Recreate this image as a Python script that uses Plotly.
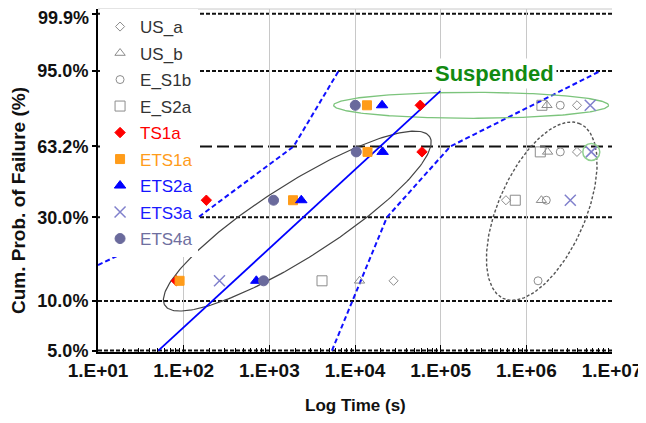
import numpy as np
import plotly.graph_objects as go

# ---------------- data ----------------
rank_F = [13.2, 36.7, 60.3, 83.8]          # cumulative probability (%) of ranks 1..4

US_a_t  = [28200, 578000, 3.90e6, 3.90e6]
US_b_t  = [11300, 1.50e6, 1.77e6, 1.74e6]
E_S1b_t = [1.37e6, 1.71e6, 2.49e6, 2.49e6]
E_S2a_t = [4120, 743000, 1.455e6, 1.52e6]
TS1a_t  = [82, 184, 60500, 57800]
ETS1a_t = [89.6, 1890, 14000, 13800]
ETS2a_t = [705, 2360, 21000, 20700]
ETS3a_t = [262, 3.26e6, 5.73e6, 5.57e6]
ETS4a_t = [857, 1120, 10350, 10070]

fit_t = [50.6, 99000]
fit_F = [5.0, 89.3]
lower_t = [10, 148, 1920, 6430]
lower_F = [16.3, 30, 63.2, 95]
upper_t = [5380, 23600, 129500, 7.3e6]
upper_F = [5, 30, 63.2, 95]

x_tickvals = [1e1, 1e2, 1e3, 1e4, 1e5, 1e6, 1e7]
x_ticktext = ["1.E+01", "1.E+02", "1.E+03", "1.E+04", "1.E+05", "1.E+06", "1.E+07"]
y_probs = [5, 10, 30, 63.2, 95, 99.9]
y_ticktext = ["5.0%", "10.0%", "30.0%", "63.2%", "95.0%", "99.9%"]


def weib(F):
    F = np.asarray(F, dtype=float) / 100.0
    return np.log(-np.log(1 - F))


# ---------------- geometry ----------------
# the page body adds an 8px margin; keep the page within the window
W, H = 638, 407
ML, MR, MT, MB = 90, 34, 1, 63
PW, PH = W - ML - MR, H - MT - MB
Y_BOT, Y_TOP = -2.991, 2.0
X_PX = PW / 6.0
Y_PX = PH / (Y_TOP - Y_BOT)

FONT = "Liberation Sans, Arial, sans-serif"
TICKFONT_Y = dict(family=FONT, size=18, weight="bold", color="#111111")


def ellipse(ct, cF, a, b, ang):
    t = np.linspace(0, 2 * np.pi, 240)
    th = np.radians(ang)
    u = a * np.cos(t) * np.cos(th) - b * np.sin(t) * np.sin(th)
    v = a * np.cos(t) * np.sin(th) + b * np.sin(t) * np.cos(th)
    lx = np.log10(ct) + u / X_PX
    w = float(weib([cF])[0]) + v / Y_PX
    return 10 ** lx, w


fig = go.Figure()

# confidence bounds and fit line
fig.add_trace(go.Scatter(x=lower_t, y=weib(lower_F), mode="lines",
                         line=dict(color="#1010ff", width=2, dash="5px,3px"),
                         showlegend=False, hoverinfo="skip"))
fig.add_trace(go.Scatter(x=upper_t, y=weib(upper_F), mode="lines",
                         line=dict(color="#1010ff", width=2, dash="5px,3px"),
                         showlegend=False, hoverinfo="skip"))

# ellipses
ex, ey = ellipse(2120, 28.65, 157, 37, 32.5)
fig.add_trace(go.Scatter(x=ex, y=ey, mode="lines", line=dict(color="#444444", width=1.2),
                         showlegend=False, hoverinfo="skip"))
ex, ey = ellipse(226500, 83.8, 137.5, 13, 0)
fig.add_trace(go.Scatter(x=ex, y=ey, mode="lines", line=dict(color="#7cc47c", width=1.3),
                         showlegend=False, hoverinfo="skip"))
ex, ey = ellipse(1.514e6, 32.3, 95.4, 43.7, 66.4)
fig.add_trace(go.Scatter(x=ex, y=ey, mode="lines",
                         line=dict(color="#555555", width=1.4, dash="3px,2px"),
                         showlegend=False, hoverinfo="skip"))

fig.add_trace(go.Scatter(x=fit_t, y=weib(fit_F), mode="lines",
                         line=dict(color="#0000ff", width=1.8),
                         showlegend=False, hoverinfo="skip"))

GRAY = "#8c8c8c"
series = [
    ("US_a", US_a_t, "diamond-open", GRAY, 7, "#333333"),
    ("US_b", US_b_t, "triangle-up-open", GRAY, 9, "#333333"),
    ("E_S1b", E_S1b_t, "circle-open", GRAY, 8, "#333333"),
    ("E_S2a", E_S2a_t, "square-open", GRAY, 10, "#333333"),
    ("TS1a", TS1a_t, "diamond", "#ff0000", 8, "#ff0000"),
    ("ETS1a", ETS1a_t, "square", "#ff9c1a", 9, "#ff9c1a"),
    ("ETS2a", ETS2a_t, "triangle-up", "#0000ff", 10, "#1414ff"),
    ("ETS3a", ETS3a_t, "x-thin-open", "#8080cc", 11, "#1a1aff"),
    ("ETS4a", ETS4a_t, "circle", "#6a6a9c", 10, "#6f6f9f"),
]
for name, times, sym, col, size, tcol in series:
    fig.add_trace(go.Scatter(
        x=times, y=weib(rank_F), mode="markers",
        name=f'<span style="color:{tcol}">{name}</span>',
        legendgroup=name,
        marker=dict(symbol=sym, color=col, size=size,
                    line=dict(color=col, width=1.5 if "x-thin" in sym else 1)),
    ))

# green circle highlighting one ETS3a point
fig.add_trace(go.Scatter(x=[ETS3a_t[2]], y=weib([rank_F[2]]), mode="markers",
                         marker=dict(symbol="circle-open", size=17, color="#8fd08f",
                                     line=dict(width=1.5, color="#8fd08f")),
                         showlegend=False, hoverinfo="skip"))

shapes = []
for p in y_probs:
    long = abs(p - 63.2) < 0.01
    shapes.append(dict(type="line", xref="paper", x0=0, x1=1, yref="y",
                       y0=float(weib([p])[0]), y1=float(weib([p])[0]),
                       line=dict(color="#111111", width=2,
                                 dash="12px,5px" if long else "4px,2px"),
                       layer="between"))
shapes.append(dict(type="line", xref="paper", x0=0, x1=1, yref="paper", y0=1, y1=1,
                   line=dict(color="#c8c8c8", width=1), layer="between"))

minor_vals = [k * 10 ** d for d in range(1, 7) for k in range(2, 10)]

# the top label sits a little lower than its tick so that it stays inside the page
axis_ticktext = y_ticktext[:-1] + [""]
top_label = dict(text=y_ticktext[-1], x=-0.0136, y=float(weib([y_probs[-1]])[0]),
                 xref="paper", yref="y", xanchor="right", yanchor="middle",
                 yshift=-4, showarrow=False, font=TICKFONT_Y)

fig.update_layout(
    width=W, height=H,
    margin=dict(l=ML, r=MR, t=MT, b=MB, autoexpand=False),
    paper_bgcolor="white", plot_bgcolor="white",
    font=dict(family=FONT, color="#000000"),
    shapes=shapes,
    showlegend=True,
    legend=dict(x=0.004, y=1.0, xanchor="left", yanchor="top",
                bgcolor="white", borderwidth=0,
                font=dict(family=FONT, size=17, color="#333333"),
                traceorder="grouped", tracegroupgap=1.4,
                itemwidth=30),
    xaxis=dict(type="log", range=[1, 7],
               tickmode="array", tickvals=x_tickvals, ticktext=x_ticktext,
               showgrid=True, gridcolor="#c8c8c8", gridwidth=1,
               showline=True, linecolor="black", linewidth=2,
               ticks="inside", ticklen=7, tickcolor="black", tickwidth=1,
               tickfont=dict(family=FONT, size=19, weight="bold", color="#111111"),
               ticklabeloverflow="allow",
               minor=dict(tickmode="array", tickvals=minor_vals, ticks="inside",
                          ticklen=4, tickcolor="black", tickwidth=1, showgrid=False),
               zeroline=False, automargin=False),
    yaxis=dict(range=[Y_BOT, Y_TOP],
               tickmode="array", tickvals=list(weib(y_probs)), ticktext=axis_ticktext,
               showgrid=False, zeroline=False,
               showline=True, linecolor="black", linewidth=2,
               ticks="outside", ticklen=4, tickcolor="black", tickwidth=1.5,
               tickfont=TICKFONT_Y,
               ticklabeloverflow="allow",
               automargin=False),
    annotations=[
        top_label,
        dict(text="Suspended", x=np.log10(4.23e5), y=float(weib([94.52])[0]),
             xref="x", yref="y", showarrow=False, bgcolor="white", borderpad=2,
             font=dict(family=FONT, size=22, weight="bold", color="#128a12")),
        dict(text="Log Time (s)", x=0.5, y=-0.157, xref="paper", yref="paper",
             showarrow=False, xanchor="center", yanchor="middle",
             font=dict(family=FONT, size=17, weight="bold", color="#111111")),
        dict(text="Cum. Prob. of Failure (%)", x=-0.1547, y=0.4417,
             xref="paper", yref="paper", textangle=-90, showarrow=False,
             xanchor="center", yanchor="middle",
             font=dict(family=FONT, size=19, weight="bold", color="#111111")),
    ],
)

fig.write_html("out.html")
